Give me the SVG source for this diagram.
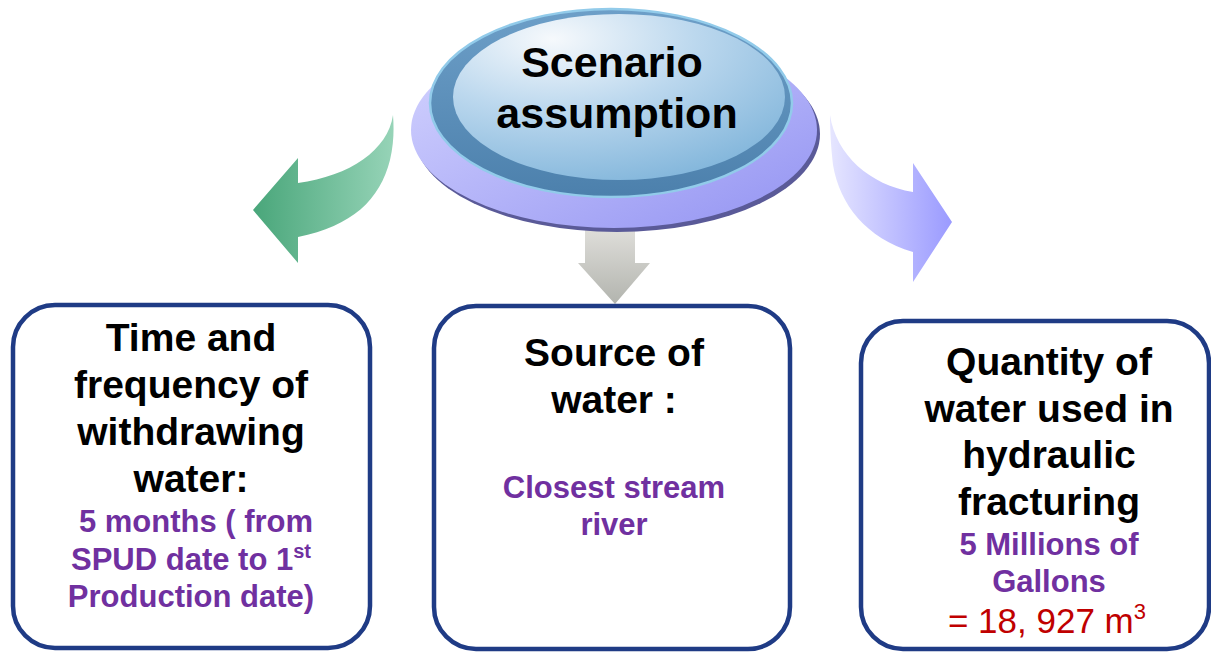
<svg xmlns="http://www.w3.org/2000/svg" width="1211" height="653" viewBox="0 0 1211 653">
  <defs>
    <linearGradient id="lavender" x1="0" y1="0" x2="1" y2="1">
      <stop offset="0" stop-color="#d6d6ff"/>
      <stop offset="1" stop-color="#9393f2"/>
    </linearGradient>
    <linearGradient id="ringBlue" x1="0" y1="0" x2="0" y2="1">
      <stop offset="0" stop-color="#6d9fc8"/>
      <stop offset="1" stop-color="#4c80ac"/>
    </linearGradient>
    <radialGradient id="capFace" cx="0.3" cy="0.15" r="0.95">
      <stop offset="0" stop-color="#f6f9fc"/>
      <stop offset="0.45" stop-color="#bcd8ee"/>
      <stop offset="1" stop-color="#7fb4da"/>
    </radialGradient>
    <linearGradient id="greenArrow" gradientUnits="userSpaceOnUse" x1="253" y1="0" x2="395" y2="0">
      <stop offset="0" stop-color="#49a67a"/>
      <stop offset="1" stop-color="#97d4b8"/>
    </linearGradient>
    <linearGradient id="violetArrow" gradientUnits="userSpaceOnUse" x1="830" y1="0" x2="952" y2="0">
      <stop offset="0" stop-color="#e6e6ff"/>
      <stop offset="1" stop-color="#9a9aff"/>
    </linearGradient>
    <linearGradient id="greyArrow" gradientUnits="userSpaceOnUse" x1="0" y1="232" x2="0" y2="304">
      <stop offset="0" stop-color="#dddcd8"/>
      <stop offset="1" stop-color="#b2b4ae"/>
    </linearGradient>
    <style>
      .box { fill: #ffffff; stroke: #1f3b85; stroke-width: 4.5; }
      .head { font-family: "Liberation Sans", Arial, sans-serif; font-weight: bold; font-size: 39px; fill: #000000; text-anchor: middle; }
      .note { font-family: "Liberation Sans", Arial, sans-serif; font-weight: bold; font-size: 31px; fill: #7030a0; text-anchor: middle; }
      .qty { font-family: "Liberation Sans", Arial, sans-serif; font-size: 35px; fill: #c00000; text-anchor: middle; }
      .title { font-family: "Liberation Sans", Arial, sans-serif; font-weight: bold; font-size: 43px; fill: #000000; text-anchor: middle; }
    </style>
  </defs>

  <!-- curved and straight arrows leading out of the central disc -->
  <g id="connectors">
    <path d="M393,115 C388,150 350,176 298,183 L298,158 L253,210 L298,263 L298,237 C352,226 380,200 390,160 C394,143 394,128 393,115 Z" fill="url(#greenArrow)"/>
    <path d="M830,115 C836,155 870,185 913,192 L913,163 L952,222 L913,282 L913,252 C866,238 840,205 833,165 C831,148 830,130 830,115 Z" fill="url(#violetArrow)"/>
    <path d="M585,225 L635,225 L635,263 L650,263 L615,304 L578,263 L585,263 Z" fill="url(#greyArrow)"/>
  </g>

  <!-- central disc -->
  <g id="scenario">
    <ellipse cx="617" cy="134" rx="203" ry="98" fill="#5a5a98"/>
    <ellipse cx="614" cy="130" rx="203" ry="98" fill="url(#lavender)"/>
    <ellipse cx="611" cy="103" rx="181" ry="94" fill="url(#ringBlue)" stroke="#92cbea" stroke-width="2.5"/>
    <ellipse cx="619" cy="97" rx="166" ry="83" fill="url(#capFace)"/>
    <text class="title" x="612" y="77">Scenario</text>
    <text class="title" x="617" y="128">assumption</text>
  </g>

  <g id="timing">
    <rect class="box" x="13" y="305" width="357" height="343" rx="42"/>
    <text class="head" x="191" y="351">Time and</text>
    <text class="head" x="191" y="398">frequency of</text>
    <text class="head" x="191" y="445">withdrawing</text>
    <text class="head" x="191" y="492">water:</text>
    <text class="note" x="196" y="532">5 months ( from</text>
    <text class="note" x="191" y="570">SPUD date to 1<tspan font-size="20" dy="-12">st</tspan></text>
    <text class="note" x="191" y="607">Production date)</text>
  </g>

  <g id="source">
    <rect class="box" x="434" y="306" width="356" height="343" rx="42"/>
    <text class="head" x="614" y="366">Source of</text>
    <text class="head" x="614" y="413">water :</text>
    <text class="note" x="614" y="498">Closest stream</text>
    <text class="note" x="614" y="535">river</text>
  </g>

  <g id="quantity">
    <rect class="box" x="861" y="321" width="348" height="328" rx="42"/>
    <text class="head" x="1049" y="375">Quantity of</text>
    <text class="head" x="1049" y="422">water used in</text>
    <text class="head" x="1049" y="468">hydraulic</text>
    <text class="head" x="1049" y="515">fracturing</text>
    <text class="note" x="1049" y="555">5 Millions of</text>
    <text class="note" x="1049" y="592">Gallons</text>
    <text class="qty" x="1047" y="633">= 18, 927 m<tspan font-size="22" dy="-14">3</tspan></text>
  </g>
</svg>
